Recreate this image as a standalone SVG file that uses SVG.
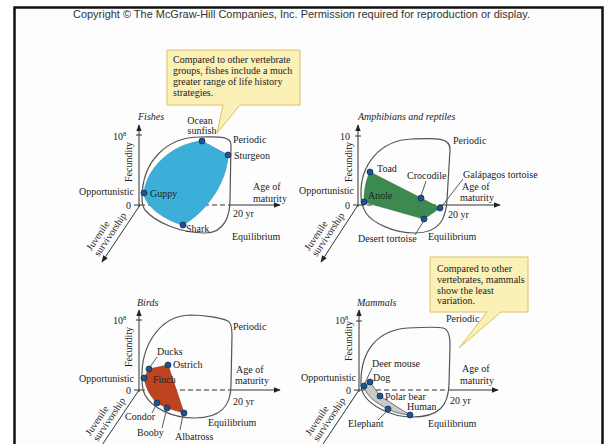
<svg xmlns="http://www.w3.org/2000/svg" width="605" height="444" viewBox="0 0 605 444">
<defs>
<style>
.t{font-family:"Liberation Serif","Times New Roman",serif;font-size:10px;fill:#222}
.i{font-style:italic}
.cr{font-family:"Liberation Sans",Arial,sans-serif;font-size:10.2px;fill:#333}
.env{fill:none;stroke:#555;stroke-width:1.2}
.ax{fill:none;stroke:#333;stroke-width:1}
.ds{fill:none;stroke:#333;stroke-width:1;stroke-dasharray:5 3}
.ld{fill:none;stroke:#333;stroke-width:0.8}
.dot{fill:#1e5590;stroke:#0c2f55;stroke-width:0.8}
.call{fill:#fbf0b6;stroke:#dfc062;stroke-width:1}
</style>
<marker id="arr" viewBox="0 0 10 10" refX="9" refY="5" markerWidth="7" markerHeight="7" orient="auto" markerUnits="userSpaceOnUse">
<path d="M0,1 L10,5 L0,9 Z" fill="#222"/>
</marker>
</defs>
<rect x="0" y="0" width="605" height="444" fill="#ffffff"/>
<rect x="14.5" y="7.5" width="588" height="450" fill="#fdfdfd" stroke="#111" stroke-width="2.5"/>
<text class="cr" x="73" y="18" textLength="457" lengthAdjust="spacingAndGlyphs">Copyright © The McGraw-Hill Companies, Inc. Permission required for reproduction or display.</text>

<!-- callouts -->
<g id="callout-fishes">
<path class="call" d="M167,50 H300 V105 H240 L217,133 L223,105 H167 Z"/>
<text class="t" x="173" y="63">Compared to other vertebrate</text>
<text class="t" x="173" y="74">groups, fishes include a much</text>
<text class="t" x="173" y="85">greater range of life history</text>
<text class="t" x="173" y="96">strategies.</text>
</g>
<g id="callout-mammals">
<path class="call" d="M430,257 H528 V312 H501 L459,348 L487,312 H430 Z"/>
<text class="t" x="437" y="271.5">Compared to other</text>
<text class="t" x="437" y="282.5">vertebrates, mammals</text>
<text class="t" x="437" y="293.5">show the least</text>
<text class="t" x="437" y="304">variation.</text>
</g>

<!-- connectors: axes and leader lines -->
<g id="connectors">
<!-- Fishes axes -->
<line class="ax" x1="139" y1="207" x2="139" y2="125" marker-end="url(#arr)"/>
<line class="ax" x1="136" y1="135" x2="142" y2="135"/>
<line class="ax" x1="134" y1="205" x2="140" y2="205"/>
<line class="ds" x1="140" y1="205" x2="230" y2="205"/>
<line class="ax" x1="230" y1="205" x2="280" y2="205" marker-end="url(#arr)"/>
<line class="ax" x1="140" y1="205" x2="102" y2="262" marker-end="url(#arr)"/>
<!-- Amphibians axes -->
<line class="ax" x1="358" y1="207" x2="358" y2="125" marker-end="url(#arr)"/>
<line class="ax" x1="355" y1="136" x2="361" y2="136"/>
<line class="ax" x1="353" y1="205" x2="359" y2="205"/>
<line class="ds" x1="359" y1="205" x2="441" y2="205"/>
<line class="ax" x1="441" y1="205" x2="500" y2="205" marker-end="url(#arr)"/>
<line class="ax" x1="358" y1="205" x2="321" y2="262" marker-end="url(#arr)"/>
<line class="ld" x1="426" y1="181" x2="421" y2="196"/>
<line class="ld" x1="463" y1="179" x2="442" y2="206"/>
<line class="ld" x1="415" y1="235" x2="423" y2="222"/>
<!-- Birds axes -->
<line class="ax" x1="139" y1="392" x2="139" y2="310" marker-end="url(#arr)"/>
<line class="ax" x1="136" y1="320" x2="142" y2="320"/>
<line class="ax" x1="134" y1="390" x2="140" y2="390"/>
<line class="ds" x1="140" y1="390" x2="230" y2="390"/>
<line class="ax" x1="230" y1="390" x2="280" y2="390" marker-end="url(#arr)"/>
<line class="ax" x1="139" y1="390" x2="100" y2="448"/>
<line class="ld" x1="157" y1="357" x2="150" y2="367"/>
<line class="ld" x1="152" y1="413" x2="156" y2="405"/>
<line class="ld" x1="162" y1="428" x2="166.5" y2="410"/>
<line class="ld" x1="180" y1="430" x2="183" y2="415"/>
<!-- Mammals axes -->
<line class="ax" x1="359" y1="392" x2="359" y2="310" marker-end="url(#arr)"/>
<line class="ax" x1="356" y1="321" x2="362" y2="321"/>
<line class="ax" x1="354" y1="390" x2="360" y2="390"/>
<line class="ds" x1="360" y1="390" x2="450" y2="390"/>
<line class="ax" x1="450" y1="390" x2="498" y2="390" marker-end="url(#arr)"/>
<line class="ax" x1="359" y1="390" x2="321" y2="447"/>
<line class="ld" x1="372" y1="368" x2="365" y2="383"/>
<line class="ld" x1="378" y1="420" x2="387" y2="411"/>
</g>

<!-- Fishes panel -->
<g id="fishes">
<path class="env" d="M142,198 C142,160 168,137 200,137 C215,137 231,135 231,145 L230,200 C230,215 225,233 205,233 C180,233 155,222 145,210 C142,206 142,202 142,198 Z"/>
<path d="M144,193 C146,170 170,144 202,141 L228,155 C227,180 209,210 183,225 C164,220 144,205 144,193 Z" fill="#3cafd8" stroke="#2a8cb2" stroke-width="0.6"/>
<text class="t i" x="138" y="119.5">Fishes</text>
<text class="t" x="113" y="139.5">10<tspan dy="-4" font-size="6.5">8</tspan></text>
<text class="t" transform="translate(131.5,162) rotate(-90)" text-anchor="middle">Fecundity</text>
<text class="t" x="131" y="209" text-anchor="end">0</text>
<text class="t" x="134" y="194.5" text-anchor="end">Opportunistic</text>
<text class="t" x="233" y="142.5">Periodic</text>
<text class="t" x="253" y="190">Age of</text>
<text class="t" x="253" y="201.5">maturity</text>
<text class="t" x="233" y="216.5">20 yr</text>
<text class="t" x="232" y="240">Equilibrium</text>
<g transform="translate(140,205) rotate(-56)">
<text class="t" x="-49" y="-14.5" text-anchor="middle">Juvenile</text>
<text class="t" x="-41" y="-5" text-anchor="middle">survivorship</text>
</g>
<g id="ocean-sunfish"><circle class="dot" cx="202" cy="141" r="3"/><text class="t" x="200" y="123.5" text-anchor="middle">Ocean</text><text class="t" x="202" y="134" text-anchor="middle">sunfish</text></g>
<g id="sturgeon"><circle class="dot" cx="228" cy="155" r="3"/><text class="t" x="234" y="159">Sturgeon</text></g>
<g id="guppy"><circle class="dot" cx="144" cy="193" r="3"/><text class="t" x="150" y="196.5">Guppy</text></g>
<g id="shark"><circle class="dot" cx="183" cy="225" r="3"/><text class="t" x="186" y="231.5">Shark</text></g>
</g>

<!-- Amphibians panel -->
<g id="amphibians">
<path class="env" d="M361,195 C360,165 380,140 412,139 C435,138 451,137 450,150 L447,200 C446,218 440,233 415,233 C392,233 372,222 366,213 C362,207 361,201 361,195 Z"/>
<path d="M370,172 L421,198 L440,208 L424,219 L364,202 C364,190 366,180 370,172 Z" fill="#3d8a50" stroke="#2c6b3c" stroke-width="0.6"/>
<text class="t i" x="358" y="120">Amphibians and reptiles</text>
<text class="t" x="350" y="140" text-anchor="end">10</text>
<text class="t" transform="translate(352,162) rotate(-90)" text-anchor="middle">Fecundity</text>
<text class="t" x="350" y="209" text-anchor="end">0</text>
<text class="t" x="354" y="194" text-anchor="end">Opportunistic</text>
<text class="t" x="453" y="143.5">Periodic</text>
<text class="t" x="462" y="190">Age of</text>
<text class="t" x="460" y="201">maturity</text>
<text class="t" x="448" y="217.5">20 yr</text>
<text class="t" x="428" y="240">Equilibrium</text>
<g transform="translate(358,205) rotate(-56)">
<text class="t" x="-49" y="-14.5" text-anchor="middle">Juvenile</text>
<text class="t" x="-41" y="-5" text-anchor="middle">survivorship</text>
</g>
<g id="toad"><circle class="dot" cx="370" cy="172" r="3"/><text class="t" x="377" y="171.5">Toad</text></g>
<g id="crocodile"><circle class="dot" cx="421" cy="198" r="3"/><text class="t" x="407" y="178.5">Crocodile</text></g>
<g id="galapagos-tortoise"><circle class="dot" cx="440" cy="208" r="3"/><text class="t" x="463" y="177.5">Galápagos tortoise</text></g>
<g id="desert-tortoise"><circle class="dot" cx="424" cy="219" r="3"/><text class="t" x="358" y="241.5">Desert tortoise</text></g>
<g id="anole"><circle class="dot" cx="364" cy="202" r="3"/><text class="t" x="368" y="198.5">Anole</text></g>
</g>

<!-- Birds panel -->
<g id="birds">
<path class="env" d="M142,378 C141,345 160,316 190,315 C205,315 222,318 228,321 C232,323 232,330 232,335 L231,385 C231,405 222,418 195,418 C172,418 152,408 145,395 C142,389 142,384 142,378 Z"/>
<path d="M144,378 L149,369 L168,365 L184,413 L167,408 L157,403 C150,396 146,388 144,378 Z" fill="#bf431f" stroke="#8e2e14" stroke-width="0.6"/>
<text class="t i" x="137" y="306">Birds</text>
<text class="t" x="113" y="323.5">10<tspan dy="-4" font-size="6.5">8</tspan></text>
<text class="t" transform="translate(131.5,347) rotate(-90)" text-anchor="middle">Fecundity</text>
<text class="t" x="131" y="394" text-anchor="end">0</text>
<text class="t" x="134" y="382" text-anchor="end">Opportunistic</text>
<text class="t" x="233" y="330">Periodic</text>
<text class="t" x="236" y="373">Age of</text>
<text class="t" x="235" y="384">maturity</text>
<text class="t" x="233" y="405">20 yr</text>
<text class="t" x="208" y="426">Equilibrium</text>
<g transform="translate(139,390) rotate(-56)">
<text class="t" x="-49" y="-14.5" text-anchor="middle">Juvenile</text>
<text class="t" x="-41" y="-5" text-anchor="middle">survivorship</text>
</g>
<g id="ducks"><circle class="dot" cx="149" cy="369" r="3"/><text class="t" x="157" y="354.5">Ducks</text></g>
<g id="ostrich"><circle class="dot" cx="168" cy="365" r="3"/><text class="t" x="173" y="367.5">Ostrich</text></g>
<g id="finch"><circle class="dot" cx="144" cy="378" r="3"/><text class="t" x="153" y="383">Finch</text></g>
<g id="condor"><circle class="dot" cx="157" cy="403" r="3"/><text class="t" x="125" y="420">Condor</text></g>
<g id="booby"><circle class="dot" cx="167" cy="408" r="3"/><text class="t" x="137" y="436">Booby</text></g>
<g id="albatross"><circle class="dot" cx="184" cy="413" r="3"/><text class="t" x="175" y="440">Albatross</text></g>
</g>

<!-- Mammals panel -->
<g id="mammals">
<path class="env" d="M361,385 C360,350 378,330 408,328 C426,327 438,327 443,328 C448,329 450,334 450,345 L449,385 C448,405 440,417 412,417 C390,417 370,405 364,395 C362,392 361,389 361,385 Z"/>
<path d="M364,386 L370,382 L380,396 L410,415 C400,414 393,412 388,409 C376,403 366,396 364,386 Z" fill="#c9c9c9" stroke="#555" stroke-width="0.8"/>
<text class="t i" x="357" y="306">Mammals</text>
<text class="t" x="335" y="324">10<tspan dy="-4" font-size="6.5">8</tspan></text>
<text class="t" transform="translate(352,341) rotate(-90)" text-anchor="middle">Fecundity</text>
<text class="t" x="351" y="394" text-anchor="end">0</text>
<text class="t" x="356" y="381" text-anchor="end">Opportunistic</text>
<text class="t" x="446" y="322">Periodic</text>
<text class="t" x="462" y="371.5">Age of</text>
<text class="t" x="460" y="383.5">maturity</text>
<text class="t" x="450" y="403.5">20 yr</text>
<text class="t" x="428" y="427">Equilibrium</text>
<g transform="translate(359,390) rotate(-56)">
<text class="t" x="-49" y="-14.5" text-anchor="middle">Juvenile</text>
<text class="t" x="-41" y="-5" text-anchor="middle">survivorship</text>
</g>
<g id="deer-mouse"><circle class="dot" cx="364" cy="386" r="3"/><text class="t" x="372" y="367">Deer mouse</text></g>
<g id="dog"><circle class="dot" cx="370" cy="382" r="3"/><text class="t" x="373" y="381">Dog</text></g>
<g id="polar-bear"><circle class="dot" cx="380" cy="396" r="3"/><text class="t" x="385" y="399.5">Polar bear</text></g>
<g id="human"><circle class="dot" cx="410" cy="415" r="3"/><text class="t" x="407" y="410">Human</text></g>
<g id="elephant"><circle class="dot" cx="388" cy="409" r="3"/><text class="t" x="348" y="427">Elephant</text></g>
</g>
</svg>
